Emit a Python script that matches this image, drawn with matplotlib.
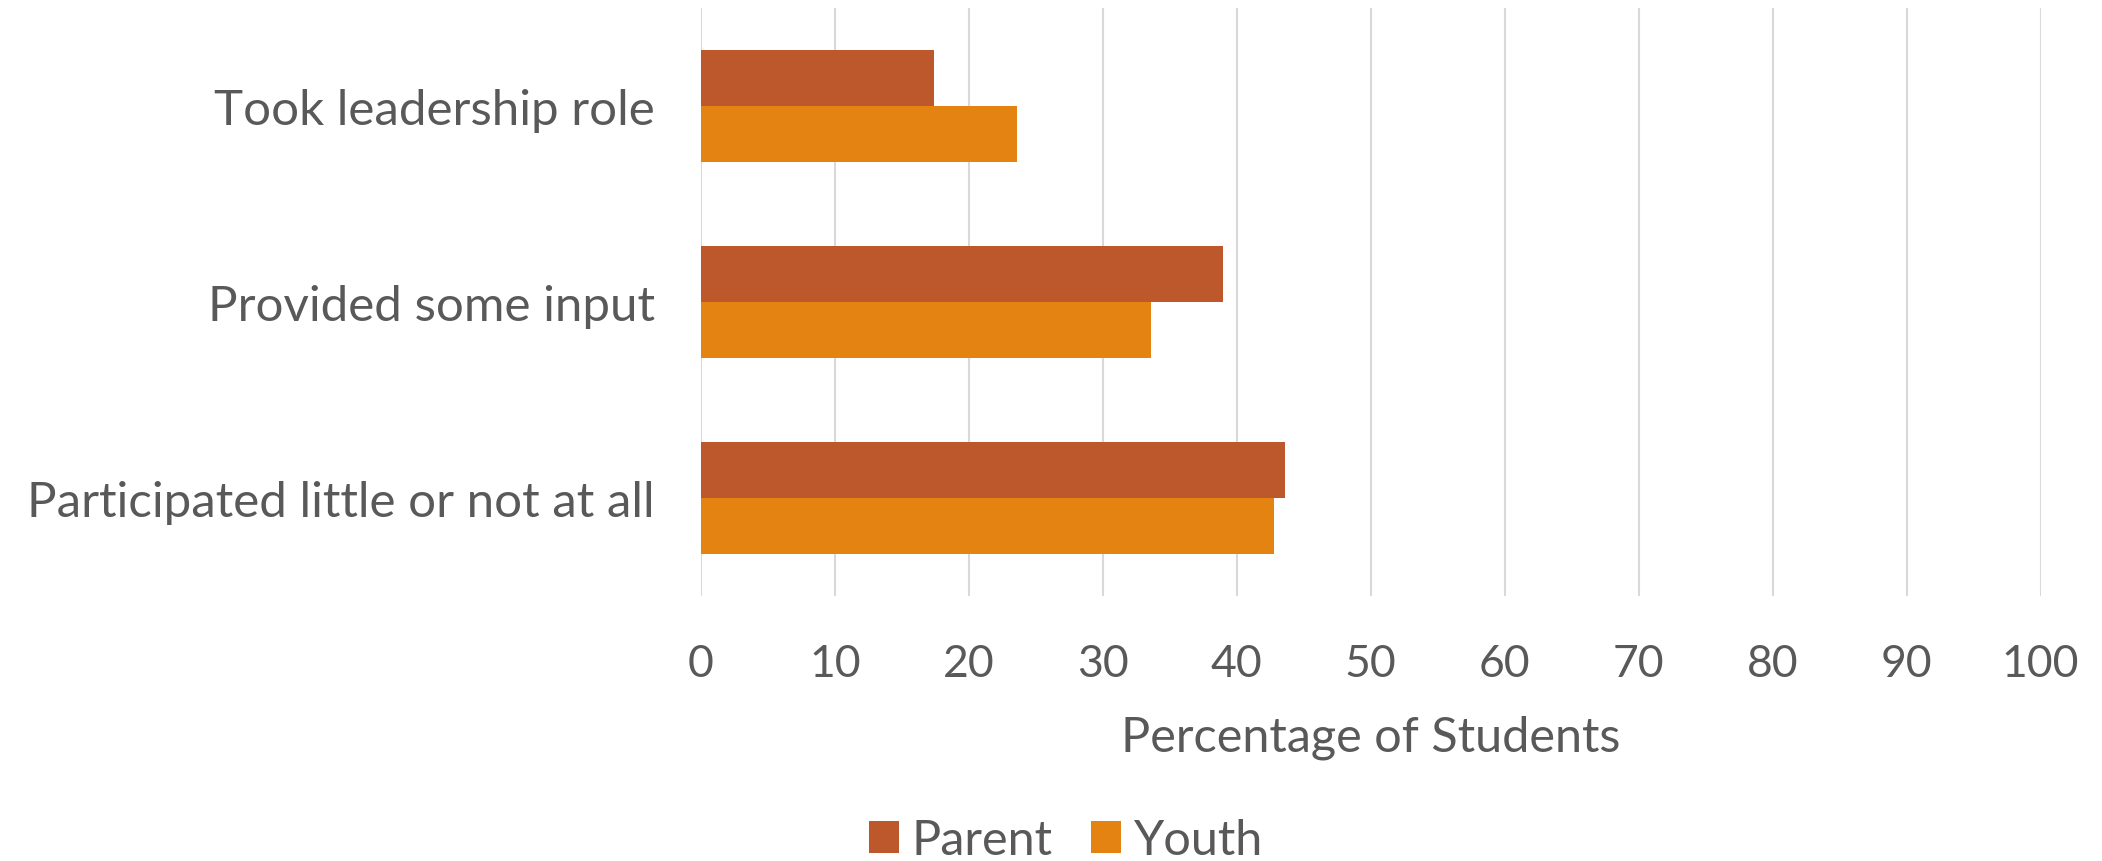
import numpy as np
import matplotlib
matplotlib.use("Agg")
from matplotlib import pyplot as plt

# data
categories = ["Took leadership role", "Provided some input", "Participated little or not at all"]
parent = [17.4, 39.0, 43.6]
youth = [23.6, 33.6, 42.8]
xticks = [0, 10, 20, 30, 40, 50, 60, 70, 80, 90, 100]

plt.rcParams["font.family"] = ["Lato", "DejaVu Sans"]
grey = "#595959"

fig = plt.figure(figsize=(21.02, 8.62), dpi=100)
ax = fig.add_axes([0.3334, 0.3074, 0.6374, 0.6821])

y = np.arange(len(categories))
h = 0.2845
ax.barh(y - h / 2, parent, height=h, color="#BD582C", label="Parent", zorder=3)
ax.barh(y + h / 2, youth, height=h, color="#E48312", label="Youth", zorder=3)

ax.set_xlim(0, 100)
ax.set_ylim(2.5, -0.5)
ax.set_xticks(xticks)
ax.set_yticks(y)
ax.set_yticklabels(categories)
ax.xaxis.grid(True, color="#D9D9D9", linewidth=1.5, zorder=0)
for s in ax.spines.values():
    s.set_visible(False)
ax.tick_params(axis="both", length=0, labelcolor=grey)
ax.tick_params(axis="x", pad=34, labelsize=32)
ax.tick_params(axis="y", pad=33, labelsize=35.5)
ax.set_xlabel("Percentage of Students", fontsize=35, color=grey, labelpad=22)

fig.legend(loc="lower center", bbox_to_anchor=(0.507, -0.052), ncol=2, frameon=False,
           fontsize=35, labelcolor=grey, handlelength=0.62, handleheight=0.62,
           handletextpad=0.25, columnspacing=0.8)

fig.savefig("out.png", dpi=100)
